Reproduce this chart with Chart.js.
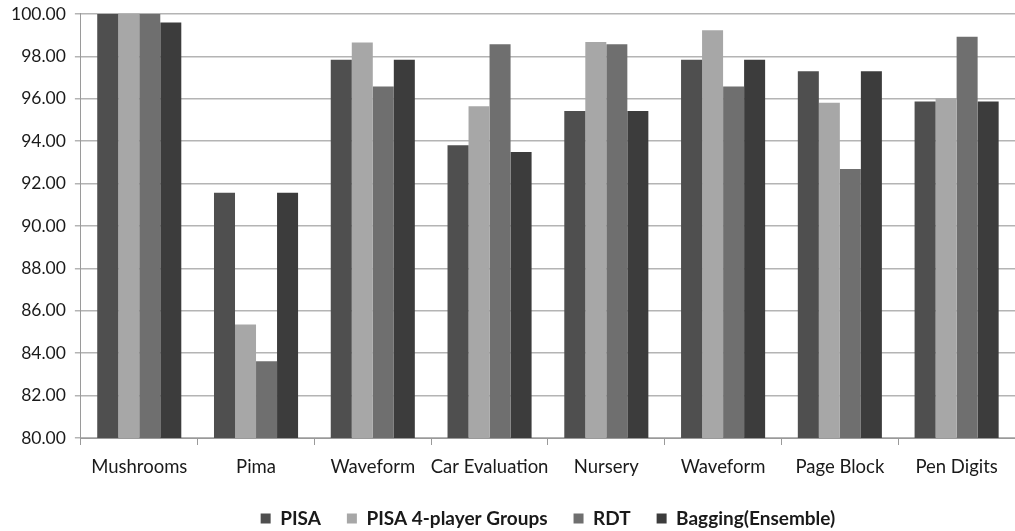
<!DOCTYPE html>
<html>
<head>
<meta charset="utf-8">
<script src="https://cdn.jsdelivr.net/npm/chart.js@4/dist/chart.umd.min.js"></script>
<style>
  html, body { margin: 0; padding: 0; background: #ffffff; }
  #wrap { width: 1015px; height: 531px; position: relative; }
</style>
</head>
<body>
<div id="wrap"><canvas id="chart" width="1015" height="531"></canvas></div>
<script>
// Classification accuracy (%) per dataset
const categories = ["Mushrooms", "Pima", "Waveform", "Car Evaluation", "Nursery", "Waveform", "Page Block", "Pen Digits"];
const seriesNames = ["PISA", "PISA 4-player Groups", "RDT", "Bagging(Ensemble)"];
const pisa        = [100.00, 91.56, 97.84, 93.80, 95.42, 97.84, 97.30, 95.87];
const pisa4Groups = [100.00, 85.35, 98.65, 95.64, 98.68, 99.23, 95.81, 96.02];
const rdt         = [100.00, 83.62, 96.58, 98.57, 98.57, 96.58, 92.69, 98.92];
const bagging     = [ 99.59, 91.56, 97.84, 93.49, 95.42, 97.84, 97.30, 95.87];
const yTicks = { min: 80, max: 100, step: 2 };

const fills = ["#4f4f4f", "#a7a7a7", "#6f6f6f", "#3c3c3c"];
const seriesValues = [pisa, pisa4Groups, rdt, bagging];

const datasets = seriesNames.map((name, i) => ({
  label: name,
  data: seriesValues[i],
  backgroundColor: fills[i],
  borderWidth: 0,
  categoryPercentage: 0.72,
  barPercentage: 1.0
}));

new Chart(document.getElementById("chart"), {
  type: "bar",
  data: { labels: categories, datasets },
  options: {
    responsive: false,
    animation: false,
    layout: { padding: { top: 0, right: 0, left: 2, bottom: -7 } },
    plugins: {
      tooltip: { enabled: false },
      legend: {
        position: "bottom",
        fullSize: false,
        labels: {
          boxWidth: 10,
          boxHeight: 10,
          padding: 26,
          color: "#1a1a1a",
          font: { family: "Lato", size: 19, weight: "bold" }
        }
      }
    },
    scales: {
      x: {
        grid: {
          display: true,
          drawOnChartArea: false,
          drawTicks: true,
          tickLength: 13.4,
          tickBorderDash: [6, 40],
          color: "#9a9a9a"
        },
        border: { display: true, color: "#9a9a9a", width: 1 },
        ticks: {
          color: "#1a1a1a",
          padding: 4.7,
          autoSkip: false,
          maxRotation: 0,
          minRotation: 0,
          font: { family: "Lato", size: 18.5 }
        }
      },
      y: {
        min: yTicks.min,
        max: yTicks.max,
        grid: {
          color: "#b4b4b4",
          lineWidth: 1.5,
          drawTicks: true,
          tickLength: 6
        },
        border: { display: true, color: "#9a9a9a", width: 1 },
        ticks: {
          stepSize: yTicks.step,
          color: "#1a1a1a",
          padding: 9,
          font: { family: "Lato", size: 17.5, lineHeight: 0.56 },
          callback: (v) => Number(v).toFixed(2)
        }
      }
    }
  }
});
</script>
</body>
</html>
